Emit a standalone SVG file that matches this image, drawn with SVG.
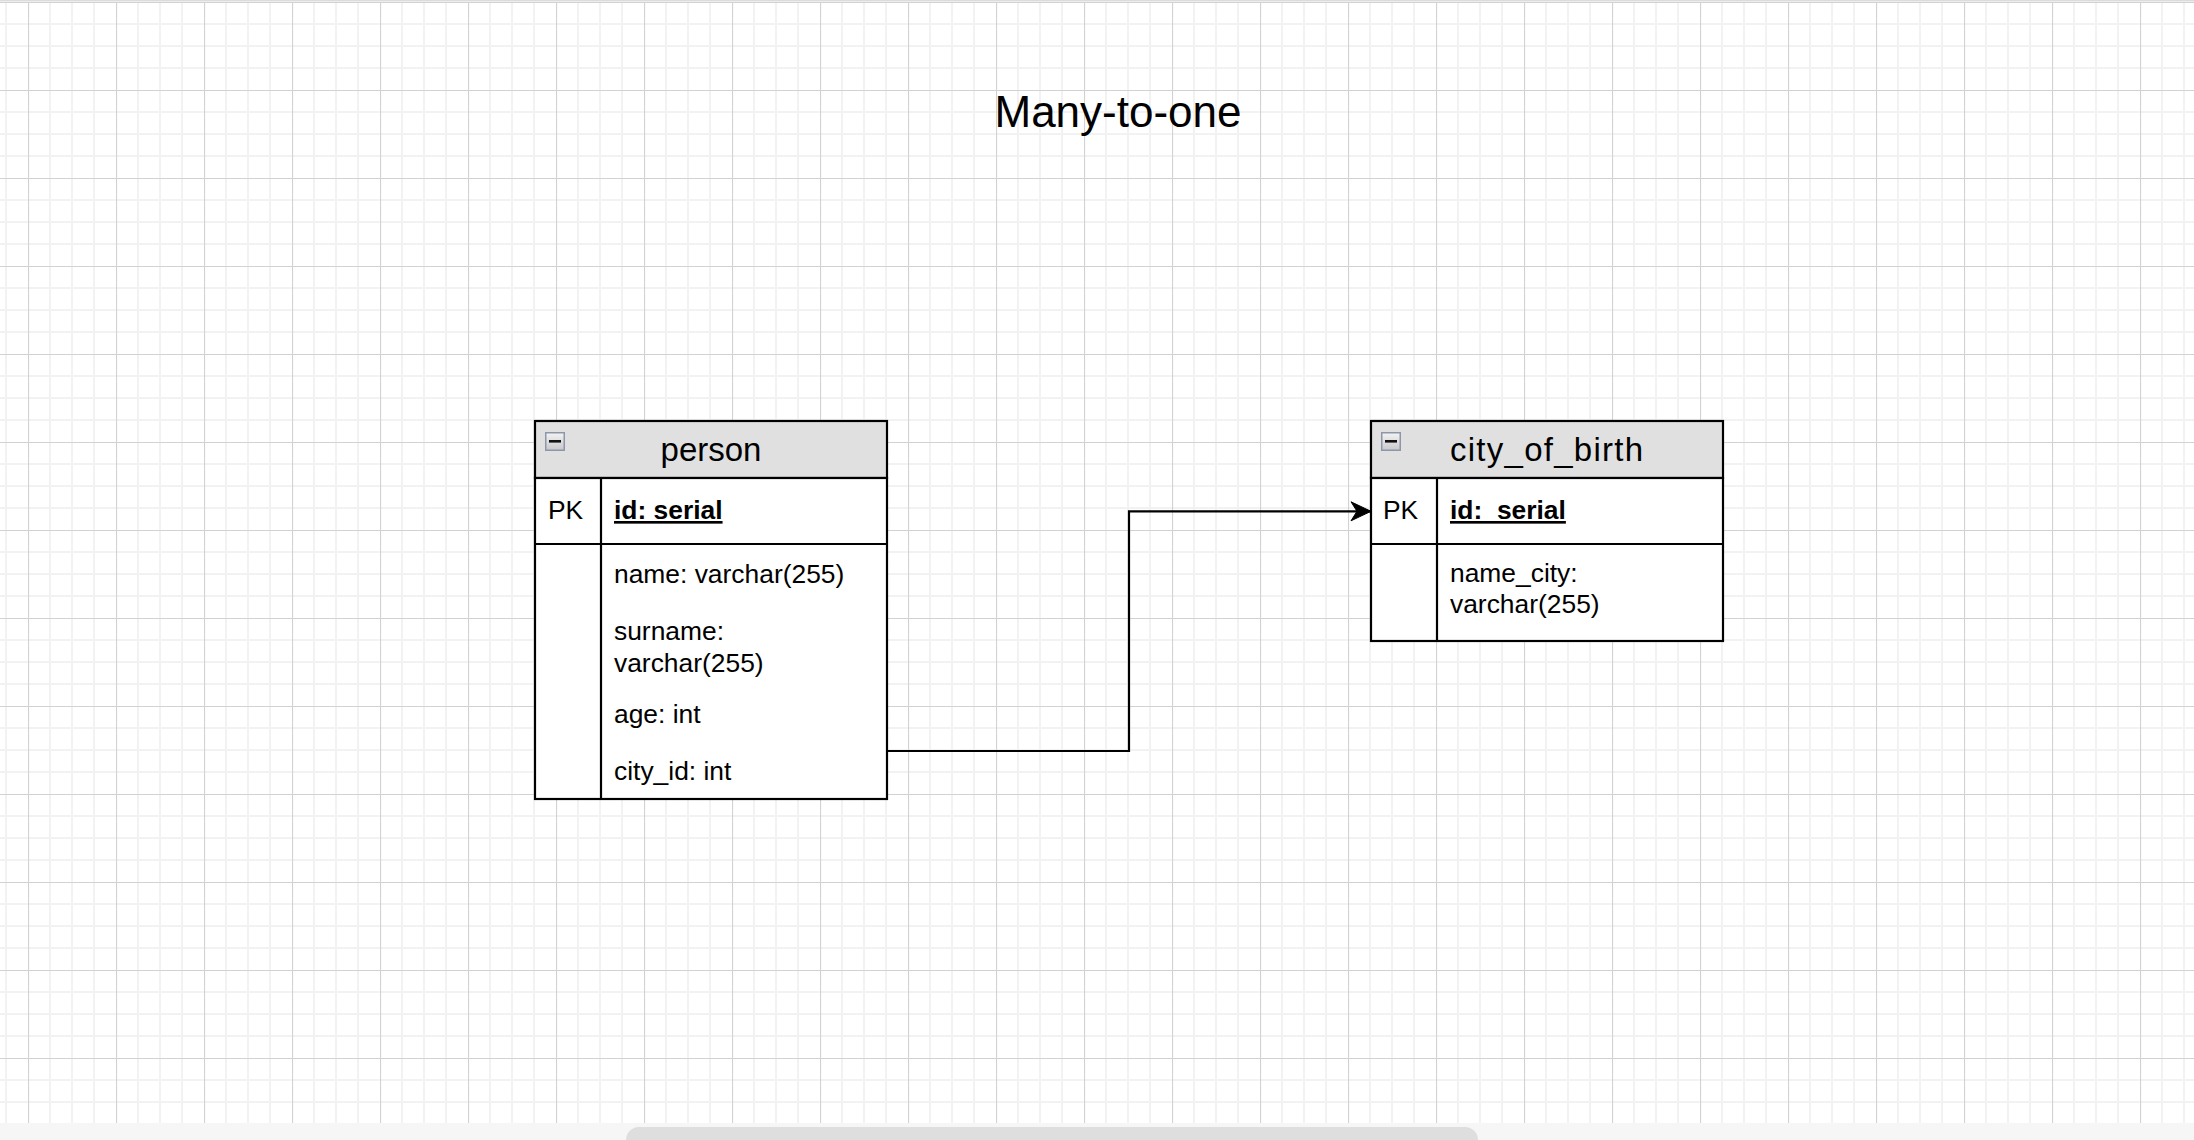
<svg xmlns="http://www.w3.org/2000/svg" width="2194" height="1140" viewBox="0 0 2194 1140">
  <defs>
    <pattern id="grid" patternUnits="userSpaceOnUse" x="28" y="2" width="88" height="88">
      <path d="M22 0V88M44 0V88M66 0V88M0 22H88M0 44H88M0 66H88" stroke="#f2f2f2" stroke-width="2" fill="none"/>
      <path d="M0.5 0V88M0 0.5H88" stroke="#d2d2d2" stroke-width="1.2" fill="none"/>
    </pattern>
    <linearGradient id="iconGrad" x1="0" y1="0" x2="0" y2="1">
      <stop offset="0" stop-color="#f4f4f4"/>
      <stop offset="1" stop-color="#c8c8cc"/>
    </linearGradient>
    <marker id="arrow" markerUnits="userSpaceOnUse" viewBox="-22 -11 24 22" refX="0" refY="0" markerWidth="24" markerHeight="22" orient="auto" overflow="visible">
      <path d="M0 0 L-20 -9.5 L-14 0 L-20 9.5 Z" fill="#000" stroke="#000" stroke-width="1" stroke-linejoin="miter"/>
    </marker>
    <g id="minIcon">
      <rect x="0.75" y="0.75" width="18.5" height="17.5" fill="url(#iconGrad)" stroke="#8e97a8" stroke-width="1.5"/>
      <rect x="4" y="8" width="12" height="2.6" fill="#111"/>
    </g>
  </defs>
  <style>
    .bx { fill: #fff; stroke: #000; stroke-width: 2.2; }
    .hd { fill: #e0e0e0; stroke: #000; stroke-width: 2.2; }
    .ln { stroke: #000; stroke-width: 2.2; fill: none; }
    .t { font-family: "Liberation Sans", Arial, Helvetica, sans-serif; fill: #000; }
    .title { font-size: 44px; }
    .head { font-size: 33px; }
    .fld { font-size: 26.4px; }
    .pk { font-size: 26.4px; font-weight: bold; text-decoration: underline; }
    .conn { stroke: #000; stroke-width: 2.2; fill: none; }
  </style>

  <!-- background -->
  <rect x="0" y="0" width="2194" height="1140" fill="#ffffff"/>
  <rect x="0" y="2" width="2194" height="1121" fill="url(#grid)"/>
  <rect x="0" y="0" width="2194" height="1.5" fill="#dcdcdc"/>
  <rect x="0" y="1123" width="2194" height="17" fill="#f6f6f6"/>
  <rect x="626" y="1127" width="852" height="26" rx="13" ry="13" fill="#dedede"/>

  <!-- title -->
  <g id="title">
    <text class="t title" x="1118" y="127" text-anchor="middle">Many-to-one</text>
  </g>

  <!-- connectors -->
  <g id="connectors">
    <path class="conn" d="M887 751 H1129 V511.3 H1371" marker-end="url(#arrow)"/>
  </g>

  <!-- person table -->
  <g id="person">
    <rect class="hd" x="535" y="421" width="352" height="57"/>
    <rect class="bx" x="535" y="478" width="352" height="321"/>
    <line class="ln" x1="535" y1="544" x2="887" y2="544"/>
    <line class="ln" x1="601" y1="478" x2="601" y2="799"/>
    <use href="#minIcon" x="545" y="432"/>
    <text class="t head" x="711" y="461" text-anchor="middle">person</text>
    <text class="t fld" x="548" y="519">PK</text>
    <text class="t pk" x="614" y="519">id: serial</text>
    <text class="t fld" x="614" y="583">name: varchar(255)</text>
    <text class="t fld" x="614" y="640">surname:</text>
    <text class="t fld" x="614" y="672">varchar(255)</text>
    <text class="t fld" x="614" y="723">age: int</text>
    <text class="t fld" x="614" y="780">city_id: int</text>
  </g>

  <!-- city_of_birth table -->
  <g id="city_of_birth">
    <rect class="hd" x="1371" y="421" width="352" height="57"/>
    <rect class="bx" x="1371" y="478" width="352" height="163"/>
    <line class="ln" x1="1371" y1="544" x2="1723" y2="544"/>
    <line class="ln" x1="1437" y1="478" x2="1437" y2="641"/>
    <use href="#minIcon" x="1381" y="432"/>
    <text class="t head" x="1450" y="461" textLength="193" lengthAdjust="spacing">city_of_birth</text>
    <text class="t fld" x="1383" y="519">PK</text>
    <text class="t pk" x="1450" y="519" xml:space="preserve">id:  serial</text>
    <text class="t fld" x="1450" y="582">name_city:</text>
    <text class="t fld" x="1450" y="613">varchar(255)</text>
  </g>
</svg>
